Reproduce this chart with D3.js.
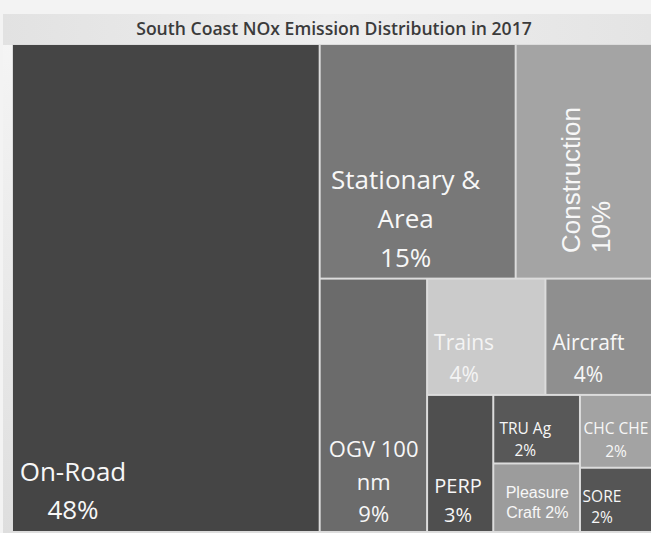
<!DOCTYPE html>
<html>
<head>
<meta charset="utf-8">
<script src="https://cdn.jsdelivr.net/npm/d3@7"></script>
<style>
  html, body { margin: 0; padding: 0; background: #f2f2f2; overflow: hidden; }
  svg { display: block; }
</style>
</head>
<body>
<script>
// ---- Data ----
const title = "South Coast NOx Emission Distribution in 2017";
const categories = ["On-Road", "Stationary & Area", "Construction", "OGV 100 nm", "Trains", "Aircraft",
                    "PERP", "TRU Ag", "Pleasure Craft", "CHC CHE", "SORE"];
// shares (percent)
const shares = [48.0, 14.7, 10.3, 8.7, 4.4, 4.0, 2.9, 1.9, 1.9, 1.7, 1.5];
const pctLabels = ["48%", "15%", "10%", "9%", "4%", "4%", "3%", "2%", "2%", "2%", "2%"];
const labelLines = [
  ["On-Road", "48%"],
  ["Stationary &", "Area", "15%"],
  ["Construction", "10%"],
  ["OGV 100", "nm", "9%"],
  ["Trains", "4%"],
  ["Aircraft", "4%"],
  ["PERP", "3%"],
  ["TRU Ag", "2%"],
  ["Pleasure", "Craft 2%"],
  ["CHC CHE", "2%"],
  ["SORE", "2%"]
];

// ---- Styles ----
const colors = ["#454545", "#787878", "#a4a4a4", "#6b6b6b", "#cbcbcb", "#8f8f8f",
                "#4f4f4f", "#585858", "#9c9c9c", "#a3a3a3", "#555555"];
// tiling groups: [orientation, count]
const groups = [["slice", 1], ["dice", 2], ["slice", 1], ["dice", 2], ["slice", 1], ["slice", 2], ["slice", 2]];
const calibri = "'Open Sans', 'Noto Sans', sans-serif";
const arial = "'Liberation Sans', Arial, sans-serif";
// label placement relative to each cell's top-left corner: per line [dx, dy]
const labelStyle = {
  "On-Road":          { font: calibri, size: 26, pos: [[60, 436], [60, 474]] },
  "Stationary & Area":{ font: calibri, size: 26, pos: [[85, 144], [85, 183], [85, 222]] },
  "Construction":     { font: arial,   size: 26, rotate: true, pos: [[63, 208], [93, 208]] },
  "OGV 100 nm":       { font: calibri, size: 22, pos: [[53, 177], [53, 210], [53, 242]] },
  "Trains":           { font: calibri, size: 21, pos: [[36, 70], [36, 102]], color: "#f4f4f4" },
  "Aircraft":         { font: calibri, size: 21, pos: [[42, 70], [42, 102]] },
  "PERP":             { font: calibri, size: 20, pos: [[30, 97], [30, 126]] },
  "TRU Ag":           { font: calibri, size: 15.5, pos: [[31, 38], [31, 60]] },
  "Pleasure Craft":   { font: arial,   size: 16, pos: [[43, 34], [43, 54]] },
  "CHC CHE":          { font: calibri, size: 15.5, pos: [[35, 38], [35, 61]] },
  "SORE":             { font: calibri, size: 15.5, pos: [[21, 33], [21, 54]] }
};

const W = 651, H = 533;
const chart = { x: 13, y: 45, w: 639, h: 486 };

const svg = d3.select("body").append("svg").attr("width", W).attr("height", H);

// background panel
const defs = svg.append("defs");
const grad = defs.append("linearGradient").attr("id", "bg").attr("x1", 0).attr("y1", 0).attr("x2", 0).attr("y2", 1);
grad.append("stop").attr("offset", "0%").attr("stop-color", "#f6f6f6");
grad.append("stop").attr("offset", "100%").attr("stop-color", "#dedede");
const tgrad = defs.append("linearGradient").attr("id", "tb").attr("x1", 0).attr("y1", 0).attr("x2", 1).attr("y2", 0);
tgrad.append("stop").attr("offset", "0%").attr("stop-color", "#e2e2e2");
tgrad.append("stop").attr("offset", "50%").attr("stop-color", "#eeeeee");
tgrad.append("stop").attr("offset", "100%").attr("stop-color", "#e4e4e4");
svg.append("rect").attr("width", W).attr("height", H).attr("fill", "#f3f3f3");
svg.append("rect").attr("x", 3).attr("y", 14).attr("width", W - 3).attr("height", H - 14)
  .attr("fill", "url(#bg)");
svg.append("rect").attr("x", 3).attr("y", 14).attr("width", W - 3).attr("height", 31)
  .attr("fill", "url(#tb)");
svg.append("rect").attr("x", chart.x - 1).attr("y", chart.y - 1).attr("width", chart.w + 2).attr("height", chart.h + 2)
  .attr("fill", "#dcdcdc");

svg.append("text")
  .attr("x", 334).attr("y", 35)
  .attr("text-anchor", "middle")
  .attr("font-family", calibri).attr("font-weight", 600).attr("font-size", 17.6)
  .attr("fill", "#3b3b3b")
  .text(title);

// ---- Treemap ----
const rows = categories.map((c, i) => ({ name: c, value: shares[i], idx: i }));

function tile(parent, x0, y0, x1, y1) {
  const nodes = parent.children;
  let value = parent.value, i = 0;
  for (const [orient, n] of groups) {
    const kids = nodes.slice(i, i + n);
    const sum = d3.sum(kids, d => d.value);
    const row = { children: kids, value: sum };
    if (orient === "dice") {
      const ny = y0 + (y1 - y0) * sum / value;
      d3.treemapDice(row, x0, y0, x1, ny);
      y0 = ny;
    } else {
      const nx = x0 + (x1 - x0) * sum / value;
      d3.treemapSlice(row, x0, y0, nx, y1);
      x0 = nx;
    }
    value -= sum; i += n;
  }
}

const root = d3.hierarchy({ children: rows }).sum(d => d.value || 0);
d3.treemap().tile(tile).size([chart.w, chart.h]).paddingInner(2)(root);

const g = svg.append("g").attr("transform", `translate(${chart.x},${chart.y})`);
const cell = g.selectAll("g.cell").data(root.leaves()).join("g").attr("class", "cell");

cell.append("rect")
  .attr("x", d => d.x0).attr("y", d => d.y0)
  .attr("width", d => d.x1 - d.x0).attr("height", d => d.y1 - d.y0)
  .attr("fill", d => colors[d.data.idx]);

cell.each(function(d) {
  const st = labelStyle[d.data.name];
  const lines = labelLines[d.data.idx];
  const sel = d3.select(this);
  lines.forEach((t, k) => {
    const [dx, dy] = st.pos[k];
    const x = d.x0 + dx, y = d.y0 + dy;
    const txt = sel.append("text")
      .attr("font-family", st.font).attr("font-size", st.size)
      .attr("fill", st.color || "#f7f7f7")
      .text(t);
    if (st.rotate) {
      txt.attr("text-anchor", "start")
        .attr("transform", `translate(${x},${y}) rotate(-90)`);
    } else {
      txt.attr("text-anchor", "middle").attr("x", x).attr("y", y);
    }
  });
});
</script>
</body>
</html>
